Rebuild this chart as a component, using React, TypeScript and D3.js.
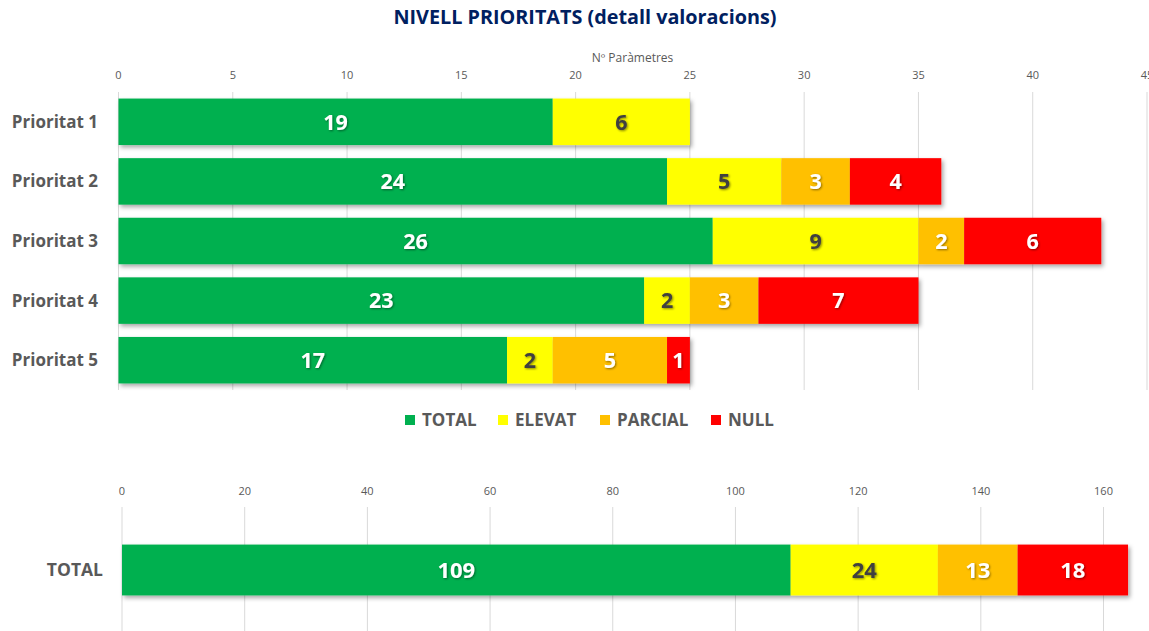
import React from "react";
import * as d3 from "d3";

const categories = ["Prioritat 1", "Prioritat 2", "Prioritat 3", "Prioritat 4", "Prioritat 5"];
const seriesNames = ["TOTAL", "ELEVAT", "PARCIAL", "NULL"];
const totalVals = [19, 24, 26, 23, 17];
const elevatVals = [6, 5, 9, 2, 2];
const parcialVals = [0, 3, 2, 3, 5];
const nullVals = [0, 4, 6, 7, 1];
const topTicks = [0, 5, 10, 15, 20, 25, 30, 35, 40, 45];
const bottomTicks = [0, 20, 40, 60, 80, 100, 120, 140, 160];
const sumCategory = "TOTAL";

const colors = ["#00B050", "#FFFF00", "#FFC000", "#FF0000"];
const labelColors = ["#ffffff", "#404040", "#ffffff", "#ffffff"];
const FONT = "'Open Sans', sans-serif";
const W = 1149;
const H = 631;

export default function App() {
  const series = [totalVals, elevatVals, parcialVals, nullVals];
  const sums = series.map((s) => d3.sum(s));

  const xTop = d3.scaleLinear().domain([0, 45]).range([118.5, 1147]);
  const yTop = d3.scaleBand().domain(categories).range([92, 390]).paddingInner(0.22).paddingOuter(0.11);

  const xBot = d3.scaleLinear().domain([0, 160]).range([122, 1103.5]);
  const yBot = d3.scaleBand().domain([sumCategory]).range([509, 631]).paddingInner(0).paddingOuter(0.7);

  const topRows = categories.map((c, i) => {
    let acc = 0;
    return series.map((s, k) => {
      const v = s[i];
      const seg = { k, x0: acc, x1: acc + v, v };
      acc += v;
      return seg;
    });
  });
  let accB = 0;
  const botSegs = sums.map((v, k) => {
    const seg = { k, x0: accB, x1: accB + v, v };
    accB += v;
    return seg;
  });

  const legendItems = [
    { name: seriesNames[0], x: 405 },
    { name: seriesNames[1], x: 498 },
    { name: seriesNames[2], x: 600 },
    { name: seriesNames[3], x: 711 },
  ];

  return (
    <svg width={W} height={H} style={{ position: "absolute", left: 0, top: 0, display: "block", background: "#fff" }} fontFamily={FONT}>
      <defs>
        <filter id="sh" x="-5%" y="-20%" width="110%" height="150%">
          <feDropShadow dx="2" dy="2.5" stdDeviation="2" floodColor="#000" floodOpacity="0.35" />
        </filter>
        <filter id="tsh" x="-20%" y="-20%" width="150%" height="150%">
          <feDropShadow dx="1" dy="1" stdDeviation="0.8" floodColor="#000" floodOpacity="0.45" />
        </filter>
      </defs>
      <text x={585} y={24} textAnchor="middle" fontSize={19.8} fontWeight={700} fill="#002060">
        NIVELL PRIORITATS (detall valoracions)
      </text>
      <text x={632.5} y={62} textAnchor="middle" fontSize={12} fill="#595959">
        Nº Paràmetres
      </text>
      {topTicks.map((t) => (
        <g key={"tt" + t}>
          <line x1={xTop(t)} x2={xTop(t)} y1={92} y2={390} stroke="#d9d9d9" strokeWidth={1} />
          <text x={xTop(t)} y={79} textAnchor="middle" fontSize={11} fill="#595959">
            {t}
          </text>
        </g>
      ))}
      {categories.map((c, i) => {
        const y = yTop(c)!;
        const h = yTop.bandwidth();
        return (
          <g key={c}>
            <text x={98} y={y + h / 2} dy="0.35em" textAnchor="end" fontSize={17} fontWeight={700} fill="#595959">
              {c}
            </text>
            <g filter="url(#sh)">
              {topRows[i].filter((s) => s.v > 0).map((s) => (
                <rect key={s.k} x={xTop(s.x0)} y={y} width={xTop(s.x1) - xTop(s.x0)} height={h} fill={colors[s.k]} />
              ))}
            </g>
            {topRows[i].filter((s) => s.v > 0).map((s) => (
              <text
                key={"l" + s.k}
                x={(xTop(s.x0) + xTop(s.x1)) / 2}
                y={y + h / 2}
                dy="0.36em"
                textAnchor="middle"
                fontSize={21.5}
                fontWeight={700}
                fill={labelColors[s.k]}
                filter="url(#tsh)"
              >
                {s.v}
              </text>
            ))}
          </g>
        );
      })}
      {legendItems.map((it, k) => (
        <g key={it.name}>
          <rect x={it.x} y={415} width={10} height={10} fill={colors[k]} />
          <text x={it.x + 17} y={420} dy="0.36em" fontSize={17} fontWeight={700} fill="#595959">
            {it.name}
          </text>
        </g>
      ))}
      {bottomTicks.map((t) => (
        <g key={"bt" + t}>
          <line x1={xBot(t)} x2={xBot(t)} y1={507} y2={631} stroke="#d9d9d9" strokeWidth={1} />
          <text x={xBot(t)} y={495} textAnchor="middle" fontSize={11} fill="#595959">
            {t}
          </text>
        </g>
      ))}
      {(() => {
        const y = yBot(sumCategory)!;
        const h = yBot.bandwidth();
        return (
          <g>
            <text x={103} y={y + h / 2} dy="0.35em" textAnchor="end" fontSize={17.5} fontWeight={700} fill="#595959">
              {sumCategory}
            </text>
            <g filter="url(#sh)">
              {botSegs.map((s) => (
                <rect key={s.k} x={xBot(s.x0)} y={y} width={xBot(s.x1) - xBot(s.x0)} height={h} fill={colors[s.k]} />
              ))}
            </g>
            {botSegs.map((s) => (
              <text
                key={"bl" + s.k}
                x={(xBot(s.x0) + xBot(s.x1)) / 2}
                y={y + h / 2}
                dy="0.36em"
                textAnchor="middle"
                fontSize={22}
                fontWeight={700}
                fill={labelColors[s.k]}
                filter="url(#tsh)"
              >
                {s.v}
              </text>
            ))}
          </g>
        );
      })()}
    </svg>
  );
}
